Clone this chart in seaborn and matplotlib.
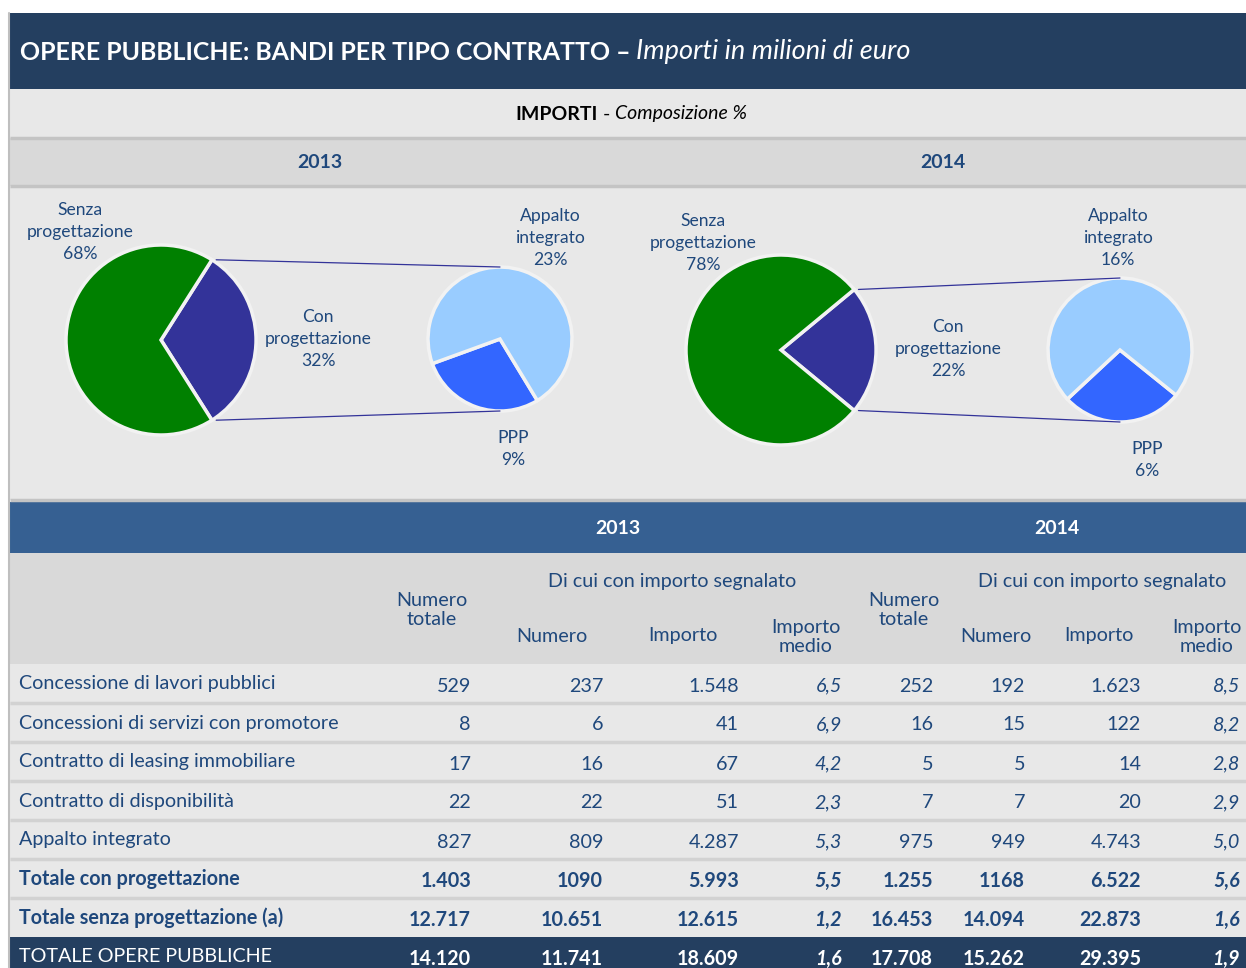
import numpy as np
import matplotlib
matplotlib.use("Agg")
import matplotlib.pyplot as plt
from matplotlib.patches import Rectangle
import seaborn as sns

W, H = 1246, 968

# --- dati dei grafici a torta (composizione % degli importi) ---
years = ["2013", "2014"]
senza_prog = [68, 78]
con_prog = [32, 22]
appalto_int = [23, 16]
ppp = [9, 6]

# --- dati della tabella ---
row_labels = [
    "Concessione di lavori pubblici",
    "Concessioni di servizi con promotore",
    "Contratto di leasing immobiliare",
    "Contratto di disponibilità",
    "Appalto integrato",
    "Totale con progettazione",
    "Totale senza progettazione (a)",
    "TOTALE OPERE PUBBLICHE",
]
num_tot_2013 = ["529", "8", "17", "22", "827", "1.403", "12.717", "14.120"]
numero_2013 = ["237", "6", "16", "22", "809", "1090", "10.651", "11.741"]
importo_2013 = ["1.548", "41", "67", "51", "4.287", "5.993", "12.615", "18.609"]
medio_2013 = ["6,5", "6,9", "4,2", "2,3", "5,3", "5,5", "1,2", "1,6"]
num_tot_2014 = ["252", "16", "5", "7", "975", "1.255", "16.453", "17.708"]
numero_2014 = ["192", "15", "5", "7", "949", "1168", "14.094", "15.262"]
importo_2014 = ["1.623", "122", "14", "20", "4.743", "6.522", "22.873", "29.395"]
medio_2014 = ["8,5", "8,2", "2,8", "2,9", "5,0", "5,6", "1,6", "1,9"]

NAVY = "#243F60"
MID = "#366092"
TXT = "#1F487C"
LIGHT = "#E8E8E8"
GREY = "#D9D9D9"
pie_cols = ["#333399", "#008000"]
sub_cols = ["#3366FF", "#99CCFF"]
FS = 14.2

sns.set_theme(style="white")
plt.rcParams["font.family"] = ["Lato", "DejaVu Sans"]

fig = plt.figure(figsize=(W / 100, H / 100), dpi=100)
ax = fig.add_axes([0, 0, 1, 1])
ax.set_xlim(0, W)
ax.set_ylim(0, H)


def Y(py):
    return H - py


def band(y0, y1, color, x0=10, x1=W):
    ax.add_patch(Rectangle((x0, Y(y1)), x1 - x0, y1 - y0, color=color, lw=0, zorder=0))


def hline(py, color, lw=2, x0=10, x1=W):
    ax.plot([x0, x1], [Y(py), Y(py)], color=color, lw=lw, zorder=1, solid_capstyle="butt")


renderer = fig.canvas.get_renderer()


def run(x, py, parts, ha="left"):
    # testo con stili misti, pezzo per pezzo
    objs = []
    for txt, size, weight, style, color in parts:
        t = ax.text(x, Y(py), txt, fontsize=size, fontweight=weight, fontstyle=style,
                    color=color, ha="left", va="center", zorder=5)
        x = t.get_window_extent(renderer).x1
        objs.append(t)
    if ha == "center":
        total = objs[-1].get_window_extent(renderer).x1 - objs[0].get_window_extent(renderer).x0
        for t in objs:
            t.set_x(t.get_position()[0] - total / 2)


# sfondi
band(13, 89, NAVY)
band(89, 138, LIGHT)
band(138, 186, GREY)
band(186, 500, LIGHT)
band(502, 553, MID)
band(553, 664, GREY)
band(664, 937, LIGHT)
band(937, H, NAVY)
hline(138, "#C4C4C4", 2.5)
hline(186, "#C4C4C4", 2.5)
hline(500, "#C4C4C4", 2.5)
for py in [703, 742, 781, 820, 859, 898]:
    hline(py, "#D2D2D2", 2.5)
ax.plot([9, 9], [Y(13), 0], color="#BFBFBF", lw=1.5, zorder=2)

# titolo
run(20, 52, [("OPERE PUBBLICHE: BANDI PER TIPO CONTRATTO – ", 17.9, "bold", "normal", "white"),
             ("Importi in milioni di euro", 19.5, "normal", "italic", "white")])
run(631, 114, [("IMPORTI", 14, "bold", "normal", "black"), (" - ", 14, "normal", "normal", "black"),
               ("Composizione %", 14, "normal", "italic", "black")], ha="center")
for yr, xc in zip(years, [320, 943]):
    ax.text(xc, Y(163), yr, fontsize=14, fontweight="bold", color=TXT, ha="center", va="center")

# torte
big_c = [(161, 340), (781, 350)]
sub_c = [(500, 339), (1120, 350)]
ppp_start = [200, 223]
R, r = 95, 72
for i in range(2):
    tot = con_prog[i] + senza_prog[i]
    half = con_prog[i] / tot * 180
    cx, cy = big_c[i]
    ax.pie([con_prog[i], senza_prog[i]], center=(cx, Y(cy)), radius=R, startangle=-half,
           colors=pie_cols, explode=[0.045, 0], frame=True,
           wedgeprops=dict(edgecolor="#F2F2F2", linewidth=2.5))
    sx, sy = sub_c[i]
    ax.pie([ppp[i], appalto_int[i]], center=(sx, Y(sy)), radius=r, startangle=ppp_start[i],
           colors=sub_cols, explode=[0.03, 0], frame=True,
           wedgeprops=dict(edgecolor="#F2F2F2", linewidth=2.5))
    # linee di collegamento
    a = np.deg2rad(half)
    tipx = cx + 0.045 * R + R * np.cos(a)
    for sgn in (1, -1):
        ax.plot([tipx, sx], [Y(cy) + sgn * R * np.sin(a), Y(sy) + sgn * r],
                color="#333399", lw=0.9, zorder=3)

lab_kw = dict(fontsize=12.6, color=TXT, ha="center", va="center", linespacing=1.47, zorder=5)
ax.text(80, Y(232), f"Senza\nprogettazione\n{senza_prog[0]}%", **lab_kw)
ax.text(318, Y(339), f"Con\nprogettazione\n{con_prog[0]}%", **lab_kw)
ax.text(550, Y(238), f"Appalto\nintegrato\n{appalto_int[0]}%", **lab_kw)
ax.text(513, Y(449), f"PPP\n{ppp[0]}%", **lab_kw)
ax.text(703, Y(243), f"Senza\nprogettazione\n{senza_prog[1]}%", **lab_kw)
ax.text(948, Y(349), f"Con\nprogettazione\n{con_prog[1]}%", **lab_kw)
ax.text(1118, Y(238), f"Appalto\nintegrato\n{appalto_int[1]}%", **lab_kw)
ax.text(1147, Y(460), f"PPP\n{ppp[1]}%", **lab_kw)

# intestazione tabella
for yr, xc in zip(years, [618, 1057]):
    ax.text(xc, Y(529), yr, fontsize=14, fontweight="bold", color="white", ha="center", va="center")
hd = dict(fontsize=FS, color=TXT, ha="center", va="center", linespacing=1.15)
for xs in [(432, 672, 552, 683, 806), (904, 1102, 996, 1099, 1207)]:
    ax.text(xs[0], Y(610), "Numero\ntotale", **hd)
    ax.text(xs[1], Y(582), "Di cui con importo segnalato", **hd)
    ax.text(xs[2], Y(636), "Numero", **hd)
    ax.text(xs[3], Y(636), "Importo", **hd)
    ax.text(xs[4], Y(637), "Importo\nmedio", **hd)

# righe tabella
cols = [num_tot_2013, numero_2013, importo_2013, medio_2013,
        num_tot_2014, numero_2014, importo_2014, medio_2014]
col_x = [471, 603, 739, 842, 933, 1025, 1141, 1240]
italic_cols = [3, 7]
row_y = [685, 724, 763, 802, 841, 880, 919, 958]
for i, lab in enumerate(row_labels):
    last = i == len(row_labels) - 1
    color = "white" if last else TXT
    bold = i >= 5
    ax.text(19, Y(row_y[i] - 1), lab, fontsize=FS, color=color,
            fontweight="bold" if (bold and not last) else "normal", ha="left", va="center")
    for j, (vals, xr) in enumerate(zip(cols, col_x)):
        ax.text(xr, Y(row_y[i] + 1), vals[i], fontsize=FS, color=color,
                fontweight="bold" if bold else "normal",
                fontstyle="italic" if j in italic_cols else "normal",
                ha="right", va="center")

ax.set_xlim(0, W)
ax.set_ylim(0, H)
ax.axis("off")
fig.savefig("out.png", dpi=100)
